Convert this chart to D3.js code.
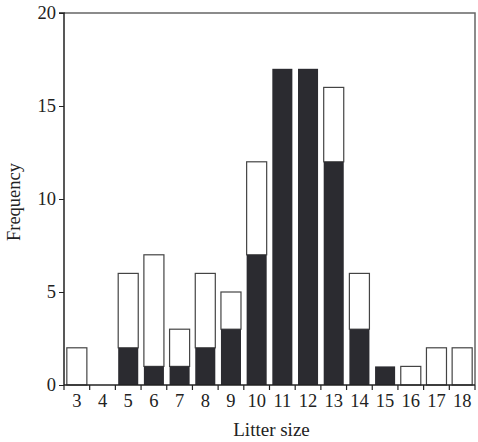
<!DOCTYPE html>
<html><head><meta charset="utf-8">
<script src="https://cdn.jsdelivr.net/npm/d3@7"></script>
<style>body{margin:0;background:#fff}svg{display:block}text{font-family:"Liberation Serif","Times New Roman",serif;fill:#222}</style>
</head><body><svg id="c" width="478" height="442"></svg>
<script>
const categories = ["3","4","5","6","7","8","9","10","11","12","13","14","15","16","17","18"];
const darkValues = [0,0,2,1,1,2,3,7,17,17,12,3,1,0,0,0];
const totalValues = [2,0,6,7,3,6,5,12,17,17,16,6,1,1,2,2];
const yTicks = [0,5,10,15,20];

const svg = d3.select("#c");
const m = {l:64, r:475, t:13, b:385};
const x = d3.scaleBand().domain(categories).range([m.l, m.r]).paddingInner(0.22).paddingOuter(0.11);
const y = d3.scaleLinear().domain([0,20]).range([m.b, m.t]);

svg.append("path").attr("d", `M${m.l},${m.t}H${m.r}V${m.b}`).attr("fill","none").attr("stroke","#666").attr("stroke-width",1.5);

const data = categories.map((c,i)=>({c, d:darkValues[i], t:totalValues[i]}));
svg.selectAll(".tot").data(data.filter(d=>d.t>d.d)).join("rect")
  .attr("x", d=>x(d.c)).attr("width", x.bandwidth())
  .attr("y", d=>y(d.t)).attr("height", d=>y(d.d)-y(d.t))
  .attr("fill","#fff").attr("stroke","#444").attr("stroke-width",1.2);
svg.selectAll(".dk").data(data.filter(d=>d.d>0)).join("rect")
  .attr("x", d=>x(d.c)).attr("width", x.bandwidth())
  .attr("y", d=>y(d.d)).attr("height", d=>y(0)-y(d.d))
  .attr("fill","#2b2b30");

const fs = 18.5;
const ya = d3.axisLeft(y).tickValues(yTicks).tickSize(5).tickPadding(3);
const yg = svg.append("g").attr("transform",`translate(${m.l},0)`).call(ya);
yg.select(".domain").attr("stroke","#222").attr("stroke-width",1.5).attr("d",`M-5,${m.t}H0V${m.b}`);
yg.selectAll("line").attr("stroke","#222");
yg.selectAll("text").attr("font-size",fs).style("font-family",'"Liberation Serif",serif').attr("fill","#222");

const xa = d3.axisBottom(x).tickSize(0).tickPadding(9);
const xg = svg.append("g").attr("transform",`translate(0,${m.b})`).call(xa);
xg.select(".domain").attr("stroke","#222").attr("stroke-width",1.5).attr("d",`M${m.l},0H${m.r}`);
xg.selectAll("text").attr("font-size",fs).style("font-family",'"Liberation Serif",serif').attr("fill","#222");
const step = x.step();
const bounds = categories.map((c,i)=>x(c)-x.paddingInner()*step/2).concat([m.r]);
xg.selectAll(".bt").data(bounds).join("line").attr("x1",d=>d).attr("x2",d=>d).attr("y1",0).attr("y2",5).attr("stroke","#222").attr("stroke-width",1.2);

svg.append("text").attr("x",(m.l+m.r)/2+2).attr("y",436).attr("text-anchor","middle").attr("font-size",fs+0.5).text("Litter size");
svg.append("text").attr("transform",`translate(20,${(m.t+m.b)/2+3}) rotate(-90)`).attr("text-anchor","middle").attr("font-size",fs).text("Frequency");
</script></body></html>
